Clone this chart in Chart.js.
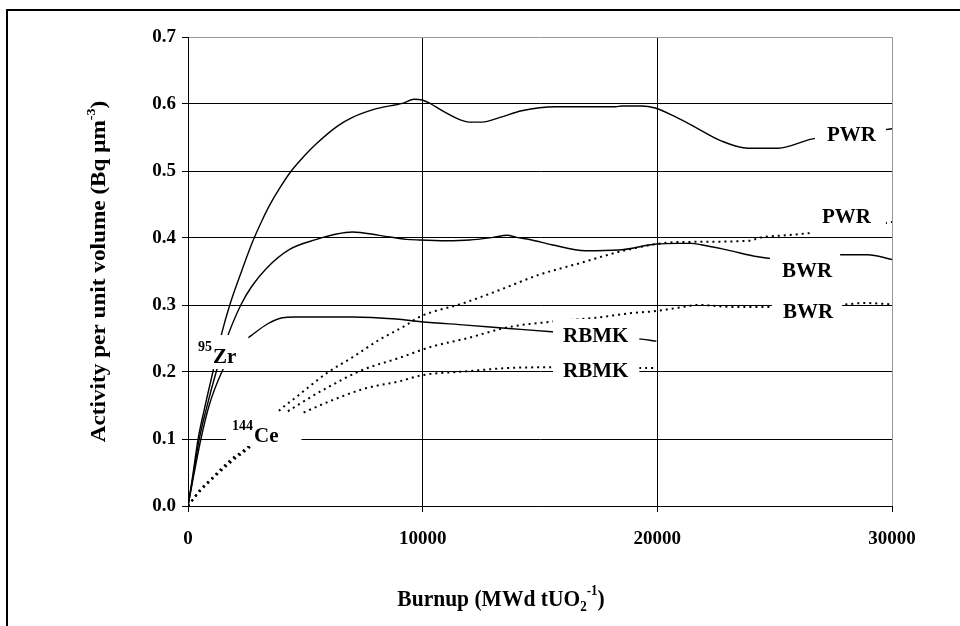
<!DOCTYPE html>
<html>
<head>
<meta charset="utf-8">
<script src="https://cdn.jsdelivr.net/npm/chart.js@4.4.1/dist/chart.umd.min.js"></script>
<style>
html,body{margin:0;padding:0;background:#fff;}
#wrap{width:960px;height:626px;position:relative;}
</style>
</head>
<body>
<div id="wrap"><canvas id="c" width="960" height="626"></canvas></div>
<script>
// ---- Data (burnup in MWd tUO2^-1, activity in Bq um^-3) ----
const xTicks = [0, 10000, 20000, 30000];
const yTicks = [0, 0.1, 0.2, 0.3, 0.4, 0.5, 0.6, 0.7];

// 95Zr (solid lines)
const burnupZrPWR = [0,200,430,700,1060,1440,1780,2300,2760,3140,3480,3900,4400,4970,5480,6370,7010,8030,9130,9640,9980,10360,10830,11550,11970,12530,13300,14220,15670,17000,18220,18470,19320,19910,20760,21740,22720,23860,25140,26620,28500,30000];
const activityZrPWR = [0,0.045,0.1,0.145,0.2,0.258,0.3,0.352,0.395,0.425,0.449,0.474,0.500,0.523,0.541,0.567,0.580,0.593,0.601,0.607,0.606,0.600,0.590,0.577,0.573,0.573,0.580,0.590,0.596,0.596,0.596,0.597,0.597,0.594,0.581,0.563,0.545,0.534,0.534,0.548,0.556,0.563];

const burnupZrBWR = [0,220,480,780,1200,1600,2250,2720,3350,4330,5480,6330,7010,8150,9300,9850,11000,12000,13000,13600,14000,14650,15500,16940,18340,19960,20890,21440,21870,23000,24290,25500,26500,27690,28960,30000];
const activityZrBWR = [0,0.045,0.1,0.145,0.2,0.245,0.30,0.328,0.355,0.383,0.398,0.406,0.409,0.404,0.398,0.397,0.396,0.397,0.401,0.404,0.401,0.397,0.390,0.381,0.382,0.391,0.392,0.392,0.390,0.382,0.372,0.368,0.371,0.375,0.375,0.368];

const burnupZrRBMK = [0,240,550,900,1440,2000,2720,3400,4030,4540,7000,8870,9940,11850,13670,15500,17500,19320,19960];
const activityZrRBMK = [0,0.045,0.1,0.15,0.2,0.235,0.255,0.272,0.281,0.282,0.282,0.279,0.275,0.270,0.265,0.260,0.254,0.249,0.246];

// 144Ce (dotted lines)
const burnupCePWR = [0,510,1060,1780,2540,3200,3780,4630,5900,7010,8150,9300,9850,11850,13250,14950,16650,18340,19960,20890,23990,24290,25440,26410,28500,30000];
const activityCePWR = [0,0.024,0.043,0.068,0.088,0.115,0.139,0.163,0.198,0.222,0.248,0.270,0.282,0.304,0.322,0.345,0.362,0.379,0.391,0.394,0.396,0.400,0.404,0.407,0.415,0.424];

const burnupCeBWR = [0,510,1060,1780,2540,3300,4130,4880,5900,7430,9000,10400,11850,13670,15460,17370,18900,19960,20890,21740,23310,24800,26300,27770,28830,30000];
const activityCeBWR = [0,0.023,0.042,0.066,0.087,0.113,0.138,0.155,0.176,0.203,0.221,0.238,0.250,0.267,0.275,0.281,0.288,0.291,0.296,0.300,0.297,0.297,0.299,0.300,0.303,0.301];

const burnupCeRBMK = [0,510,1060,1780,2540,3700,4900,6160,7600,9000,9940,11850,13670,15460,17500,19320,19960];
const activityCeRBMK = [0,0.022,0.041,0.064,0.085,0.118,0.139,0.158,0.176,0.186,0.195,0.201,0.206,0.207,0.207,0.206,0.206];

// In-plot labels: text and anchor (data units)
const labelTexts = ['Zr', 'Ce', 'PWR', 'PWR', 'BWR', 'BWR', 'RBMK', 'RBMK'];
const labelSups  = ['95', '144', '', '', '', '', '', ''];
const labelBurnup   = [426, 1875, 27230, 27015, 25310, 25350, 15980, 15980];
const labelActivity = [0.2134, 0.0955, 0.5448, 0.4224, 0.3418, 0.2806, 0.2448, 0.1925];

// Axis titles (rich text parts)
const xTitleParts = [['Burnup (MWd tUO', 0], ['2', -1], ['-1', 1], [')', 0]];
const yTitleParts = [['Activity per unit volume (Bq \u03BCm', 0], ['-3', 1], [')', 0]];

// ---- Styles for label boxes (pixels) ----
const labelBox = [
  {padL:4, padR:12, top:28, bottom:6},
  {padL:6, padR:23, top:29, bottom:4},
  {padL:12, padR:10, top:22, bottom:6},
  {padL:10, padR:15, top:22, bottom:12},
  {padL:12, padR:8, top:24, bottom:6},
  {padL:11, padR:9, top:22, bottom:6},
  {padL:10, padR:11, top:23, bottom:6},
  {padL:10, padR:11, top:22, bottom:6}
];

const FONT = '"Liberation Serif", "Times New Roman", serif';

function pts(xs, ys) { return xs.map((x, i) => ({x: x, y: ys[i]})); }

function solid(label, xs, ys) {
  return {label, data: pts(xs, ys), borderColor: '#000', borderWidth: 1.4,
    pointRadius: 0, fill: false, cubicInterpolationMode: 'monotone'};
}
function dotted(label, xs, ys) {
  return {label, data: pts(xs, ys), borderColor: '#000', borderWidth: 2,
    borderDash: [2, 4], pointRadius: 0, fill: false, cubicInterpolationMode: 'monotone'};
}

// draw text with sub/superscripts, centred at (0,0) baseline
function drawRich(ctx, parts, size) {
  const small = Math.round(size * 0.62);
  const items = parts.map(([t, k]) => {
    ctx.font = 'bold ' + (k ? small : size) + 'px ' + FONT;
    return {t, k, w: ctx.measureText(t).width};
  });
  const total = items.reduce((s, it) => s + it.w, 0);
  let x = -total / 2;
  for (const it of items) {
    ctx.font = 'bold ' + (it.k ? small : size) + 'px ' + FONT;
    const dy = it.k === 1 ? -size * 0.48 : (it.k === -1 ? size * 0.2 : 0);
    ctx.fillText(it.t, x, dy);
    x += it.w;
  }
}

const labelPlugin = {
  id: 'seriesLabels',
  afterDatasetsDraw(chart) {
    const {ctx, scales: {x, y}} = chart;
    ctx.save();
    ctx.textBaseline = 'alphabetic';
    for (let i = 0; i < labelTexts.length; i++) {
      const px = x.getPixelForValue(labelBurnup[i]);
      const py = y.getPixelForValue(labelActivity[i]);
      const b = labelBox[i];
      let supW = 0;
      if (labelSups[i]) {
        ctx.font = 'bold 14px ' + FONT;
        supW = ctx.measureText(labelSups[i]).width + 1;
      }
      ctx.font = 'bold 21px ' + FONT;
      const mainW = ctx.measureText(labelTexts[i]).width;
      ctx.fillStyle = '#fff';
      ctx.fillRect(px - b.padL, py - b.top, supW + mainW + b.padL + b.padR, b.top + b.bottom);
      ctx.fillStyle = '#000';
      if (labelSups[i]) {
        ctx.font = 'bold 14px ' + FONT;
        ctx.fillText(labelSups[i], px, py - 12);
      }
      ctx.font = 'bold 21px ' + FONT;
      ctx.fillText(labelTexts[i], px + supW, py);
    }
    ctx.restore();
  }
};

const framePlugin = {
  id: 'frame',
  beforeDraw(chart) {
    const ctx = chart.ctx;
    ctx.save();
    ctx.fillStyle = '#fff';
    ctx.fillRect(0, 0, chart.width, chart.height);
    ctx.restore();
  },
  afterDraw(chart) {
    const ctx = chart.ctx;
    ctx.save();
    ctx.strokeStyle = '#000';
    ctx.lineWidth = 2;
    ctx.strokeRect(7, 10, 1200, 1200);
    // axis titles
    ctx.fillStyle = '#000';
    ctx.textBaseline = 'alphabetic';
    ctx.save();
    ctx.translate(501, 606);
    ctx.scale(1, 1.08);
    drawRich(ctx, xTitleParts, 21.5);
    ctx.restore();
    ctx.save();
    ctx.translate(105, (chart.chartArea.top + chart.chartArea.bottom) / 2);
    ctx.rotate(-Math.PI / 2);
    ctx.scale(1.08, 1);
    drawRich(ctx, yTitleParts, 21.5);
    ctx.restore();
    ctx.restore();
  }
};

new Chart(document.getElementById('c'), {
  type: 'line',
  data: {
    datasets: [
      solid('95Zr PWR', burnupZrPWR, activityZrPWR),
      solid('95Zr BWR', burnupZrBWR, activityZrBWR),
      solid('95Zr RBMK', burnupZrRBMK, activityZrRBMK),
      dotted('144Ce PWR', burnupCePWR, activityCePWR),
      dotted('144Ce BWR', burnupCeBWR, activityCeBWR),
      dotted('144Ce RBMK', burnupCeRBMK, activityCeRBMK)
    ]
  },
  options: {
    responsive: false,
    devicePixelRatio: 1,
    animation: false,
    layout: {padding: {top: 37, right: 68, bottom: 0, left: 0}},
    plugins: {legend: {display: false}, tooltip: {enabled: false}},
    scales: {
      x: {
        type: 'linear', min: 0, max: 30000,
        afterBuildTicks(scale) { scale.ticks = xTicks.map(v => ({value: v})); },
        afterFit(scale) { scale.height = 120; },
        grid: {
          color: ctx => (ctx.tick && ctx.tick.value === 30000) ? '#9a9a9a' : '#000',
          tickColor: '#000', tickLength: 6, lineWidth: 1
        },
        border: {color: '#000', width: 1},
        ticks: {
          color: '#000', padding: 16, maxRotation: 0,
          font: {family: FONT, size: 19, weight: 'bold'},
          callback: v => String(v)
        },
        title: {display: false}
      },
      y: {
        type: 'linear', min: 0, max: 0.7,
        afterBuildTicks(scale) { scale.ticks = yTicks.map(v => ({value: v})); },
        afterFit(scale) { scale.width = 188; },
        grid: {
          color: ctx => (ctx.tick && Math.abs(ctx.tick.value - 0.7) < 1e-9) ? '#9a9a9a' : '#000',
          tickColor: '#000', tickLength: 6, lineWidth: 1
        },
        border: {color: '#000', width: 1},
        ticks: {
          color: '#000', padding: 6,
          font: {family: FONT, size: 19, weight: 'bold'},
          callback: v => Number(v).toFixed(1)
        },
        title: {display: false}
      }
    }
  },
  plugins: [labelPlugin, framePlugin]
});
</script>
</body>
</html>
